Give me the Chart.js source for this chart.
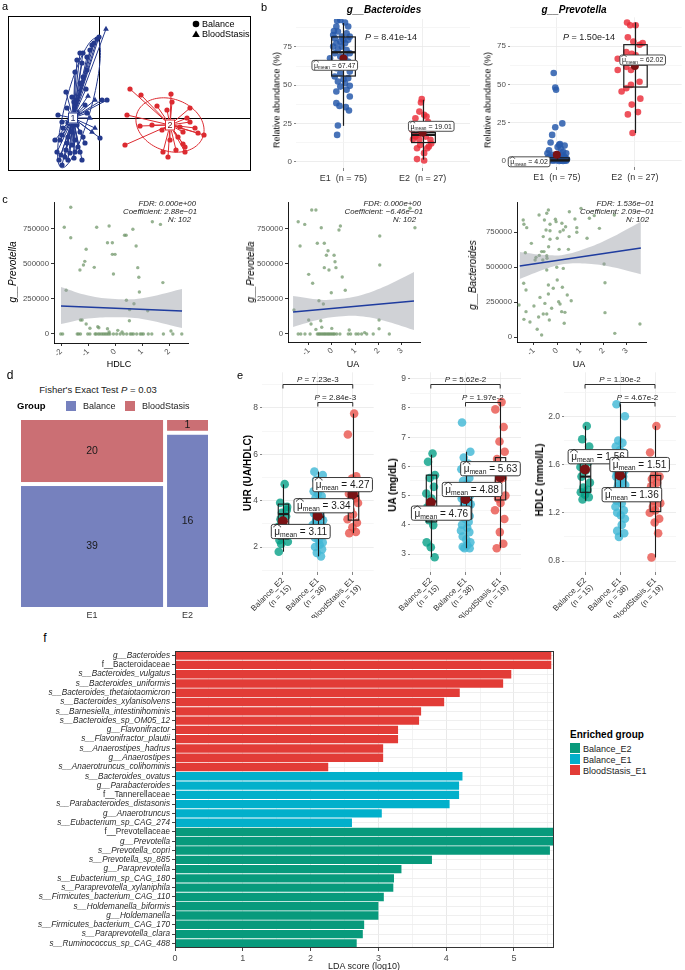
<!DOCTYPE html>
<html>
<head>
<meta charset="utf-8">
<title>Figure</title>
<script src="https://cdn.jsdelivr.net/npm/chart.js@4.4.1/dist/chart.umd.min.js"></script>
<style>
html,body{margin:0;padding:0;background:#fff;}
#page{position:relative;width:685px;height:970px;overflow:hidden;background:#fff;font-family:'Liberation Sans',Arial,Helvetica,sans-serif;color:#000;}
#page canvas{position:absolute;}
.t{position:absolute;white-space:nowrap;line-height:1;}
.sq{position:absolute;}
</style>
</head>
<body>
<div id="page"></div>
<script>
// ===================== DATA =====================
// ---- Panel a: ordination scores (PC1, PC2) ----
const aBlueCircle = [[0.00,0.81],[-0.02,0.79],[-0.05,0.75],[-0.07,0.73],[-0.09,0.68],[-0.16,0.65],[-0.19,0.65],[-0.12,0.61],[-0.22,0.58],[-0.17,0.55],[-0.12,0.48],[-0.24,0.46],[-0.16,0.41],[-0.19,0.35],[-0.33,0.26],[-0.13,0.29],[-0.27,0.21],[-0.23,0.18],[-0.25,0.16],[0.03,0.18],[0.08,0.18],[-0.14,0.13],[-0.32,0.10],[-0.12,0.05],[0.01,-0.20],[-0.16,-0.19],[-0.41,0.03],[-0.37,-0.04],[-0.36,-0.10],[-0.31,-0.05],[-0.22,-0.07],[-0.27,-0.14],[-0.19,-0.14],[-0.44,-0.22],[-0.39,-0.22],[-0.32,-0.25],[-0.24,-0.22],[-0.14,-0.25],[-0.42,-0.34],[-0.38,-0.37],[-0.34,-0.39],[-0.29,-0.35],[-0.24,-0.34],[-0.19,-0.34],[-0.31,-0.42],[-0.40,-0.42],[-0.37,-0.47],[-0.37,-0.17],[-0.31,-0.19],[-0.27,-0.27],[-0.21,-0.29],[-0.33,-0.32],[-0.25,-0.40],[-0.17,-0.42]];
const aBlueTriangle = [[0.07,0.89],[-0.04,0.18],[-0.09,0.00],[-0.04,-0.10],[-0.07,-0.14],[-0.21,0.06],[-0.29,0.00],[-0.11,0.22]];
const aRedCircle = [[0.31,0.29],[0.42,0.23],[0.72,0.24],[0.58,0.12],[0.68,0.08],[0.73,0.16],[0.91,0.10],[0.28,0.03],[0.41,-0.08],[0.53,-0.07],[0.63,-0.12],[0.88,0.00],[0.91,-0.04],[0.96,-0.10],[0.99,-0.15],[1.05,-0.17],[0.84,-0.14],[0.81,-0.09],[0.26,-0.27],[0.71,-0.22],[0.79,-0.19],[0.84,-0.26],[0.86,-0.29],[0.64,-0.34],[0.86,-0.34],[0.69,-0.39],[0.77,-0.32]];
const aCentroids = [[-0.26,0.00],[0.71,-0.07]];
const aClusterLabels = ['1','2'];
// ellipse: centre x, centre y, semi-axis a, semi-axis b, angle (deg)
const aEllipses = [[-0.20,0.15,0.67,0.13,75],[0.71,-0.07,0.35,0.26,-20]];

// ---- Panel b: relative abundance (%) ----
const bCats = ['E1  (n = 75)','E2  (n = 27)'];
const bBactE1 = [92,92.6,90.9,88.3,88.3,85.4,85,83.9,81.7,80.7,78.5,77.4,75.2,73.5,73,70.9,70.9,68.7,67.6,65.4,62.2,61.1,58.9,57.8,54.6,52.4,51.3,49.6,49.1,47,45.9,42.6,38.3,36.5,35.7,33.5,23.7,17.6,79.6,75.2,77.4,79.6,82.8,81.7,68.7,63.3,62.6,55.7,53.9];
const bBactE1Jit = [-0.08,-0.04,0.02,0.06,-0.09,-0.12,-0.07,0.04,0.08,-0.11,-0.04,0.02,-0.13,-0.07,0.04,0.08,-0.11,-0.04,-0.17,0.06,0,-0.09,0.08,-0.04,0.06,-0.07,0.02,0.08,-0.04,0.04,-0.09,0.08,-0.09,-0.05,0.03,0.07,-0.07,-0.08,0,-0.02,-0.09,0.06,-0.13,-0.02,0.02,-0.13,0.1,-0.11,0];
const bBactE2 = [40.9,38.7,32.8,29.6,28.5,24.1,30.7,20.9,19.8,16.5,16.5,14.4,14.4,10.0,8.9,8.9,5.7,1.8,0.9,14.8,22.5,18.0,12.0,26.0,17.0,11.0,21.5];
const bBactE2Jit = [-0.01,-0.02,-0.04,0.05,-0.09,-0.01,0.02,-0.13,-0.01,-0.09,0.04,-0.04,0.1,0.08,-0.07,0.06,0.02,-0.07,0.02,-0.12,0.09,-0.05,0.11,0.07,-0.1,-0.03,0.12];
const bPrevE1 = [57.5,48,46.5,24.5,22,17,12,11,10.5,10,9,8,7,6,5,5,4,4,3,3,2.5,2,2,1.5,1.5,1,1,1,0.8,0.5,0.5,0.3,0.3,0.2,0.2,0.1,0.1,0,0,0];
const bPrevE1Jit = [-0.04,-0.02,-0.01,0.07,-0.02,-0.06,-0.08,0.04,0.03,0.1,0.01,0.05,-0.1,0.08,-0.12,0.12,0.06,-0.05,0.09,-0.09,0.02,-0.11,0.11,0.0,-0.07,0.13,-0.03,0.07,-0.13,0.04,-0.08,0.1,-0.01,0.06,-0.1,0.12,-0.05,0.03,-0.12,0.08];
const bPrevE2 = [90.5,88.7,88.7,80.8,78,75.9,77.1,71.2,70,69,66.8,66.8,61.5,59.4,59.4,51.8,49.7,47.5,45.4,40.7,36.8,31.9,30.4,18.2];
const bPrevE2Jit = [-0.10,-0.06,0.01,-0.09,-0.02,0.06,0.1,-0.11,-0.04,0.01,-0.22,0.08,-0.11,-0.22,-0.05,0.06,-0.05,-0.11,-0.17,0.07,-0.04,0.04,-0.09,-0.03];
// box stats: [whisker low, Q1, median, Q3, whisker high, mean]
const bBactStats = [[23.5,56,71.5,81.5,90.6,67.47],[1.5,12.6,17.6,19.1,40.5,19.01]];
const bPrevStats = [[0,0.1,0.4,2.0,4.8,4.02],[18.2,48.3,63,76,90.5,62.02]];
const bBactP = '8.41e-14', bPrevP = '1.50e-14';

// ---- Panel c: correlation scatter (x = clinical z-score, y = abundance) ----
const cYTicks = [0,250000,500000,750000];
const cHdlcPrev = [[-1.64,905000],[-1.88,762000],[-1.64,688000],[-1.81,312000],[-1.07,605000],[-1.12,519000],[-1.17,493000],[-1.30,457000],[-0.77,476000],[-0.68,762000],[-0.22,771000],[-0.28,652000],[-0.10,652000],[-0.10,569000],[0.00,569000],[-0.06,429000],[0.35,705000],[0.41,705000],[0.66,748000],[0.78,629000],[0.84,474000],[0.88,405000],[0.90,300000],[0.42,241000],[0.70,216000],[0.54,174000],[0.53,95000],[1.21,166000],[1.38,802000],[1.68,783000],[1.77,367000],[-1.28,100000],[-1.22,100000],[-1.07,71000],[-0.93,41000],[-0.64,52000],[-0.60,45000],[-0.28,38000],[-0.22,14000],[0.10,26000],[0.26,14000],[2.07,21000],[2.14,0],[-2.01,0],[-1.94,0],[-1.40,0],[-1.35,0],[-1.28,0],[-1.01,0],[-0.93,0],[-0.74,0],[-0.70,0],[-0.62,0],[-0.56,0],[-0.49,0],[-0.43,0],[-0.37,0],[-0.31,0],[-0.25,0],[-0.19,0],[-0.06,0],[0.06,0],[0.19,0],[0.31,0],[0.43,0],[0.56,0],[0.62,0],[0.68,0],[0.80,0],[0.93,0],[0.99,0],[1.05,0],[1.23,0],[1.36,0],[1.79,0],[2.47,0]];
const cUaPrev = [[-0.87,886000],[-0.69,886000],[-1.45,802000],[-1.17,783000],[-0.46,759000],[0.30,743000],[0.36,771000],[-1.37,629000],[-0.63,648000],[-0.33,648000],[-0.17,595000],[-0.24,562000],[0.09,562000],[0.13,516000],[-0.33,474000],[-0.13,457000],[0.17,474000],[-1.00,426000],[-0.83,362000],[0.44,407000],[0.57,312000],[-0.03,295000],[-0.56,238000],[-0.37,214000],[-1.63,171000],[-1.00,100000],[-0.90,71000],[-0.48,95000],[-0.44,48000],[-0.69,33000],[-0.01,40000],[0.74,29000],[1.40,10000],[2.02,100000],[2.02,38000],[2.05,700000],[2.05,493000],[3.56,759000],[3.35,898000],[-1.45,0],[-1.34,0],[-1.16,0],[-0.94,0],[-0.63,0],[-0.57,0],[-0.52,0],[-0.46,0],[-0.40,0],[-0.34,0],[-0.29,0],[-0.23,0],[-0.17,0],[-0.12,0],[-0.06,0],[0,0],[0.06,0],[0.11,0],[0.20,0],[0.34,0],[0.70,0],[0.80,0],[1.03,0],[1.13,0],[1.27,0],[1.49,0],[1.77,0],[2.46,0]];
const cUaBact = [[1.03,919000],[0.53,895000],[-0.37,907000],[-0.44,884000],[-0.77,871000],[-0.54,836000],[-0.07,841000],[-0.04,824000],[-1.45,836000],[-1.42,805000],[-1.30,781000],[-0.30,805000],[0.21,812000],[0.77,843000],[1.39,848000],[1.60,867000],[1.82,776000],[1.29,705000],[0.85,781000],[0.37,788000],[0.27,764000],[0.13,752000],[-0.30,759000],[-0.47,764000],[-0.59,717000],[-0.30,698000],[-1.10,669000],[0.01,705000],[0.52,717000],[0.85,748000],[-1.36,602000],[0.49,626000],[0.09,626000],[-0.36,645000],[-0.56,610000],[-0.66,610000],[-0.90,569000],[-0.76,583000],[-0.44,581000],[-0.43,562000],[-0.61,550000],[-0.94,550000],[-0.44,479000],[-0.01,498000],[0.27,490000],[2.02,521000],[-1.43,384000],[-1.33,336000],[-0.37,371000],[0.01,407000],[2.06,388000],[-0.16,348000],[0.23,355000],[-0.37,307000],[0.44,300000],[-0.73,283000],[0.61,259000],[0.07,252000],[0.13,236000],[-1.63,229000],[-0.99,221000],[-0.52,240000],[-0.23,205000],[0.20,181000],[0.34,176000],[-1.33,181000],[2.06,174000],[-0.59,164000],[-0.44,164000],[-0.79,143000],[-1.42,126000],[-1.16,107000],[-0.33,121000],[0.31,98000],[-0.85,55000],[-0.66,14000],[2.48,26000],[3.56,93000],[2.46,871000]];
// linear fit and 95% CI band
const cFit1X = [-2.0,2.48], cFit1Y = [200000,164000];
const cBand1X = [-2.0,-1,0,1,2.48], cBand1Hi = [336000,275000,250000,255000,321000], cBand1Lo = [71000,110000,120000,108000,43000];
const cFit2X = [-1.67,3.52], cFit2Y = [157000,236000];
const cBand2X = [-1.67,-0.5,0.3,1.2,2.2,3.52], cBand2Hi = [271000,245000,250000,275000,335000,443000], cBand2Lo = [50000,105000,125000,127000,97000,29000];
const cFit3X = [-1.6,3.6], cFit3Y = [507000,636000];
const cBand3X = [-1.6,-0.5,0.3,1.2,2.2,3.6], cBand3Hi = [607000,585000,588000,630000,700000,824000], cBand3Lo = [414000,485000,521000,525000,505000,448000];

// ---- Panel d: mosaic counts ----
const dCols = ['E1','E2'];
const dBalance = [39,16];
const dBloodStasis = [20,1];

// ---- Panel e: clinical indices by group ----
const eCats = [['Balance_E2','(n = 15)'],['Balance_E1','(n = 38)'],['BloodStasis_E1','(n = 19)']];
const eJitter = [0.05,-0.08,0.12,-0.03,0.09,-0.13,0.02,-0.10,0.14,-0.05,0.07,-0.12,0.00,0.11,-0.07,0.04,-0.14,0.10,-0.02,0.13,-0.09,0.06,-0.11,0.03,0.08,-0.04,0.15,-0.06,0.01,-0.15,0.12,-0.01,0.09,-0.10,0.05,-0.13,0.11,-0.08,0.02,0.14];
const uhrE2 = [4.71,3.91,3.73,3.48,3.33,2.87,2.59,2.30,2.23,2.13,2.60,1.80,3.00,3.60,3.20];
const uhrE1 = [5.25,5.1,4.9,4.6,4.4,4.3,4.2,4.1,4.0,3.9,3.8,3.7,3.65,3.6,3.5,3.45,3.4,3.3,3.2,3.15,3.1,3.0,2.95,2.9,2.85,2.8,2.7,2.65,2.6,2.5,2.4,2.3,2.2,2.1,2.0,1.9,1.75,1.6];
const uhrBS = [7.75,6.85,5.05,4.95,4.8,4.6,4.4,4.3,4.2,4.1,4.0,3.9,3.6,3.4,3.2,3.05,2.85,2.65,2.6];
const uaE2 = [6.44,6.16,5.7,5.6,5.3,5.07,4.9,4.6,4.3,4.16,3.99,3.4,3.23,2.89,4.5];
const uaE1 = [7.5,6.5,6.3,6.1,5.9,5.8,5.6,5.5,5.4,5.3,5.2,5.1,5.0,5.0,4.95,4.9,4.85,4.8,4.75,4.7,4.6,4.5,4.4,4.3,4.2,4.1,4.0,3.9,3.8,3.75,3.6,3.5,3.4,3.3,3.25,3.2,3.2,4.65];
const uaBS = [8.2,7.95,7.35,6.85,6.5,6.25,6.0,5.85,5.7,5.6,5.5,5.0,4.9,4.75,4.5,4.2,3.75,3.35,3.2];
const hdlE2 = [1.92,1.81,1.75,1.68,1.62,1.58,1.55,1.5,1.45,1.41,1.39,1.37,1.35,1.33,1.31];
const hdlE1 = [2.1,2.0,1.8,1.78,1.75,1.72,1.7,1.68,1.65,1.62,1.6,1.58,1.55,1.53,1.52,1.5,1.48,1.46,1.45,1.43,1.42,1.4,1.38,1.36,1.35,1.33,1.3,1.28,1.25,1.22,1.2,1.18,1.15,1.1,1.05,1.03,1.0,1.5];
const hdlBS = [1.92,1.7,1.6,1.52,1.5,1.48,1.45,1.42,1.38,1.35,1.3,1.28,1.25,1.22,1.2,1.15,1.12,1.03,0.83];
const uhrStats = [[1.8,2.35,3.42,3.85,4.7,3.11],[1.6,2.65,3.3,3.9,5.25,3.34],[2.6,3.16,4.2,4.95,7.75,4.27]];
const uaStats = [[2.9,4.1,4.8,5.7,6.4,4.76],[3.2,4.2,4.85,5.4,6.5,4.88],[3.2,4.85,5.6,6.3,8.2,5.63]];
const hdlStats = [[1.3,1.37,1.5,1.61,1.92,1.56],[1.0,1.3,1.5,1.62,2.1,1.51],[0.83,1.21,1.35,1.51,1.92,1.36]];
// pairwise tests: [group a, group b, bracket height, p]
const uhrTests = [[1,3,9.01,'7.23e-3'],[2,3,8.24,'2.84e-3']];
const uaTests = [[1,3,8.81,'5.62e-2'],[2,3,8.20,'1.97e-2']];
const hdlTests = [[1,3,2.266,'1.30e-2'],[2,3,2.117,'4.67e-2']];

// ---- Panel f: LEfSe LDA scores ----
const ldaFeatures = ['g__Bacteroides','f__Bacteroidaceae','s__Bacteroides_vulgatus','s__Bacteroides_uniformis','s__Bacteroides_thetaiotaomicron','s__Bacteroides_xylanisolvens','s__Barnesiella_intestinihominis','s__Bacteroides_sp_OM05_12','g__Flavonifractor','s__Flavonifractor_plautii','s__Anaerostipes_hadrus','g__Anaerostipes','s__Anaerotruncus_colihominis','s__Bacteroides_ovatus','g__Parabacteroides','f__Tannerellaceae','s__Parabacteroides_distasonis','g__Anaerotruncus','s__Eubacterium_sp_CAG_274','f__Prevotellaceae','g__Prevotella','s__Prevotella_copri','s__Prevotella_sp_885','g__Paraprevotella','s__Eubacterium_sp_CAG_180','s__Paraprevotella_xylaniphila','s__Firmicutes_bacterium_CAG_110','s__Holdemanella_biformis','g__Holdemanella','s__Firmicutes_bacterium_CAG_170','s__Paraprevotella_clara','s__Ruminococcus_sp_CAG_488'];
const ldaScores = [5.55,5.55,4.96,4.84,4.20,3.97,3.63,3.60,3.29,3.29,3.07,3.07,2.26,4.24,4.19,4.19,4.05,3.05,2.61,5.62,5.62,5.53,3.79,3.34,3.23,3.22,3.08,3.00,3.00,2.79,2.77,2.68];
const ldaGroups = ['BloodStasis_E1','BloodStasis_E1','BloodStasis_E1','BloodStasis_E1','BloodStasis_E1','BloodStasis_E1','BloodStasis_E1','BloodStasis_E1','BloodStasis_E1','BloodStasis_E1','BloodStasis_E1','BloodStasis_E1','BloodStasis_E1','Balance_E1','Balance_E1','Balance_E1','Balance_E1','Balance_E1','Balance_E1','Balance_E2','Balance_E2','Balance_E2','Balance_E2','Balance_E2','Balance_E2','Balance_E2','Balance_E2','Balance_E2','Balance_E2','Balance_E2','Balance_E2','Balance_E2'];
const ldaLegend = ['Balance_E2','Balance_E1','BloodStasis_E1'];

// ===================== STYLE / HELPERS =====================
const FONT = "'Liberation Sans', Arial, Helvetica, sans-serif";
Chart.defaults.font.family = FONT;
Chart.defaults.color = '#4d4d4d';
const A_BLUE = '#24398c', A_RED = '#dc2a30';
const B_BLUE = 'rgba(40,90,172,0.85)', B_RED = 'rgba(234,44,56,0.82)';
const E_COL = ['rgba(0,158,132,0.78)','rgba(66,184,214,0.82)','rgba(232,78,70,0.78)'];
const F_COL = {Balance_E2:'#089a7c', Balance_E1:'#02b0cb', BloodStasis_E1:'#e23c37'};
const D_BLUE = '#7681be', D_RED = '#cb6f74';
const MEAN_COL = '#7a1214';

const page = document.getElementById('page');
function T(html, x, y, size, o = {}) {
  const d = document.createElement('div');
  d.className = 't';
  d.innerHTML = html;
  d.style.fontSize = size + 'px';
  if (o.b) d.style.fontWeight = 'bold';
  if (o.i) d.style.fontStyle = 'italic';
  d.style.color = o.c || '#000';
  d.style.left = x + 'px';
  d.style.top = y + 'px';
  const ax = o.a === 'l' ? '0%' : (o.a === 'r' ? '-100%' : '-50%');
  d.style.transform = 'translate(' + ax + ',-50%)' + (o.rot ? ' rotate(' + o.rot + 'deg)' : '');
  page.appendChild(d);
}
function SQ(x, y, w, h, col) {
  const d = document.createElement('div');
  d.className = 'sq';
  Object.assign(d.style, {left: x + 'px', top: y + 'px', width: w + 'px', height: h + 'px', background: col});
  page.appendChild(d);
}
// box = [left, top, width, height]; area = [x0, y0, x1, y1] (page pixels)
function mk(box, area, cfg) {
  const c = document.createElement('canvas');
  c.width = box[2]; c.height = box[3];
  Object.assign(c.style, {left: box[0] + 'px', top: box[1] + 'px', width: box[2] + 'px', height: box[3] + 'px'});
  page.appendChild(c);
  const yw = area[0] - box[0], xh = box[1] + box[3] - area[3];
  const o = cfg.options || (cfg.options = {});
  o.responsive = false; o.maintainAspectRatio = false; o.animation = false; o.devicePixelRatio = 1; o.events = [];
  o.layout = {padding: {left: 0, top: area[1] - box[1], right: box[0] + box[2] - area[2], bottom: 0}};
  o.plugins = Object.assign({legend: {display: false}, tooltip: {enabled: false}}, o.plugins || {});
  o.scales.x.afterFit = s => { s.height = xh; s.paddingLeft = 0; s.paddingRight = 0; };
  o.scales.y.afterFit = s => { s.width = yw; s.paddingTop = 0; s.paddingBottom = 0; };
  return new Chart(c, cfg);
}
function hiddenScale(min, max) {
  return {type: 'linear', min, max, ticks: {display: false}, grid: {display: false, drawTicks: false, tickLength: 0}, border: {display: false}};
}
function rrect(ctx, x, y, w, h, r) {
  ctx.beginPath();
  ctx.moveTo(x + r, y); ctx.lineTo(x + w - r, y); ctx.quadraticCurveTo(x + w, y, x + w, y + r);
  ctx.lineTo(x + w, y + h - r); ctx.quadraticCurveTo(x + w, y + h, x + w - r, y + h);
  ctx.lineTo(x + r, y + h); ctx.quadraticCurveTo(x, y + h, x, y + h - r);
  ctx.lineTo(x, y + r); ctx.quadraticCurveTo(x, y, x + r, y); ctx.closePath();
}
function drawMeanLabel(ctx, cx, cy, val, fs, lw) {
  ctx.save();
  const f1 = fs + 'px ' + FONT, f2 = (fs * 0.68).toFixed(2) + 'px ' + FONT;
  ctx.font = f1;
  const wMu = ctx.measureText('\u03bc').width;
  const rest = ' = ' + val;
  const wRest = ctx.measureText(rest).width;
  ctx.font = f2;
  const wSub = ctx.measureText('mean').width;
  const pad = fs * 0.3;
  const w = wMu + wSub + wRest + 2 * pad, h = fs * 1.42;
  const x0 = cx - w / 2, y0 = cy - h / 2;
  rrect(ctx, x0, y0, w, h, 2);
  ctx.fillStyle = '#fff'; ctx.fill();
  ctx.lineWidth = lw; ctx.strokeStyle = '#3a3a3a'; ctx.stroke();
  ctx.fillStyle = '#1a1a1a'; ctx.textAlign = 'left'; ctx.textBaseline = 'alphabetic';
  const base = cy + fs * 0.36;
  ctx.font = f1; ctx.fillText('\u03bc', x0 + pad, base);
  ctx.lineWidth = Math.max(0.6, fs / 13); ctx.strokeStyle = '#1a1a1a';
  ctx.beginPath();
  const hx = x0 + pad - fs * 0.05, hw = wMu + fs * 0.1, hy = cy - fs * 0.42;
  ctx.moveTo(hx, hy); ctx.lineTo(hx, hy - fs * 0.08); ctx.lineTo(hx + hw / 2, hy - fs * 0.3); ctx.lineTo(hx + hw, hy - fs * 0.08); ctx.lineTo(hx + hw, hy);
  ctx.stroke();
  ctx.font = f2; ctx.fillText('mean', x0 + pad + wMu, base + fs * 0.2);
  ctx.font = f1; ctx.fillText(rest, x0 + pad + wMu + wSub, base);
  ctx.restore();
}
function drawBrackets(chart, tests, fs) {
  const {ctx, scales: {x, y}} = chart;
  ctx.save();
  ctx.strokeStyle = '#1a1a1a'; ctx.lineWidth = 0.9; ctx.fillStyle = '#1a1a1a';
  tests.forEach(b => {
    const x1 = x.getPixelForValue(b[0]), x2 = x.getPixelForValue(b[1]), yy = Math.round(y.getPixelForValue(b[2])) + 0.5;
    ctx.beginPath(); ctx.moveTo(x1, yy + 4); ctx.lineTo(x1, yy); ctx.lineTo(x2, yy); ctx.lineTo(x2, yy + 4); ctx.stroke();
    ctx.font = 'italic ' + fs + 'px ' + FONT; const wP = ctx.measureText('P').width;
    ctx.font = fs + 'px ' + FONT; const rest = ' = ' + b[3]; const wr = ctx.measureText(rest).width;
    const tx = (x1 + x2) / 2 - (wP + wr) / 2, ty = yy - 3;
    ctx.textAlign = 'left'; ctx.textBaseline = 'alphabetic';
    ctx.font = 'italic ' + fs + 'px ' + FONT; ctx.fillText('P', tx, ty);
    ctx.font = fs + 'px ' + FONT; ctx.fillText(rest, tx + wP, ty);
  });
  ctx.restore();
}

// generic box + jitter chart (panels b, e)
function mkBoxChart(o) {
  const datasets = o.groups.map((vals, g) => ({
    data: vals.map((v, i) => ({x: g + 1 + o.jit[g][i % o.jit[g].length], y: v})),
    pointRadius: o.pr, pointHoverRadius: o.pr, pointBackgroundColor: o.colors[g], pointBorderWidth: 0
  }));
  const isMaj = o.isMajor;
  return mk(o.box, o.area, {
    type: 'scatter',
    data: {datasets},
    options: {
      scales: {
        x: {type: 'linear', min: 0.4, max: o.groups.length + 0.6,
            ticks: {stepSize: 1, includeBounds: false, autoSkip: false,
                    callback: v => { const k = Math.round(v) - 1; return o.xlabels[k] !== undefined ? o.xlabels[k] : ''; },
                    color: '#333', font: {size: o.xfs}, maxRotation: o.rot, minRotation: o.rot, padding: o.xpad},
            grid: {color: '#ebebeb', lineWidth: 0.8, tickLength: 3, tickColor: '#666'}, border: {display: false}},
        y: {type: 'linear', min: o.ymin, max: o.ymax,
            ticks: {stepSize: o.ystep, includeBounds: false, autoSkip: false, callback: v => isMaj(v) ? o.fmt(v) : '', color: '#4d4d4d', font: {size: o.yfs}, padding: 2},
            grid: {color: c => (c.tick && isMaj(c.tick.value)) ? '#e9e9e9' : '#f4f4f4', lineWidth: 0.8, tickLength: 2,
                   tickColor: c => (c.tick && isMaj(c.tick.value)) ? '#666' : 'rgba(0,0,0,0)'}, border: {display: false}}
      }
    },
    plugins: [{
      id: 'boxes',
      afterDatasetsDraw(chart) {
        const {ctx, scales: {x, y}} = chart;
        ctx.save();
        o.stats.forEach((s, g) => {
          const cx = Math.round(x.getPixelForValue(g + 1)) + 0.5;
          const hw = Math.abs(x.getPixelForValue(g + 1 + o.bw / 2) - x.getPixelForValue(g + 1));
          const P = v => y.getPixelForValue(v);
          ctx.strokeStyle = '#1a1a1a'; ctx.lineWidth = o.blw;
          ctx.beginPath(); ctx.moveTo(cx, P(s[0])); ctx.lineTo(cx, P(s[4])); ctx.stroke();
          ctx.strokeRect(cx - hw, P(s[3]), 2 * hw, P(s[1]) - P(s[3]));
          ctx.lineWidth = o.blw * 1.9;
          ctx.beginPath(); ctx.moveTo(cx - hw, P(s[2])); ctx.lineTo(cx + hw, P(s[2])); ctx.stroke();
        });
        o.stats.forEach((s, g) => {
          ctx.fillStyle = MEAN_COL; ctx.beginPath();
          ctx.arc(x.getPixelForValue(g + 1), y.getPixelForValue(s[5]), o.mr, 0, Math.PI * 2); ctx.fill();
        });
        ctx.restore();
        o.stats.forEach((s, g) => drawMeanLabel(ctx, x.getPixelForValue(o.lab[g][0]), y.getPixelForValue(o.lab[g][1]), s[5].toFixed(2), o.lfs, o.llw));
        if (o.tests) drawBrackets(chart, o.tests, 8);
      }
    }]
  });
}

// correlation chart (panel c)
function mkCorChart(o) {
  const xy = (xs, ys) => xs.map((v, i) => ({x: v, y: ys[i]}));
  return mk(o.box, o.area, {
    type: 'line',
    data: {datasets: [
      {data: xy(o.fitX, o.fitY), borderColor: '#1f3c9f', borderWidth: 1.4, pointRadius: 0, fill: false},
      {data: xy(o.bandX, o.bandHi), borderWidth: 0, borderColor: 'rgba(0,0,0,0)', pointRadius: 0, tension: 0.4, fill: '+1', backgroundColor: 'rgba(150,156,163,0.45)'},
      {data: xy(o.bandX, o.bandLo), borderWidth: 0, borderColor: 'rgba(0,0,0,0)', pointRadius: 0, tension: 0.4, fill: false},
      {data: o.pts.map(p => ({x: p[0], y: p[1]})), showLine: false, pointRadius: 1.7, pointBackgroundColor: 'rgba(110,148,103,0.72)', pointBorderWidth: 0}
    ]},
    options: {
      scales: {
        x: {type: 'linear', min: o.xmin, max: o.xmax,
            ticks: {stepSize: 1, includeBounds: false, maxRotation: 45, minRotation: 45, color: '#4d4d4d', font: {size: 7.8}, padding: 1},
            grid: {display: true, drawOnChartArea: false, tickLength: 3, color: '#000', tickColor: '#000', tickWidth: 0.8},
            border: {display: true, color: '#000', width: 0.9}},
        y: {type: 'linear', min: o.ymin, max: o.ymax,
            afterBuildTicks: s => { s.ticks = cYTicks.map(v => ({value: v})); },
            ticks: {callback: v => String(v), color: '#4d4d4d', font: {size: 7.8}, padding: 2},
            grid: {display: true, drawOnChartArea: false, tickLength: 3, color: '#000', tickColor: '#000', tickWidth: 0.8},
            border: {display: true, color: '#000', width: 0.9}}
      }
    }
  });
}

// ===================== PANEL a =====================
mk([0, 0, 260, 180], [8, 16, 251, 171], {
  type: 'scatter',
  data: {datasets: [
    {data: aBlueCircle.map(p => ({x: p[0], y: p[1]})), pointStyle: 'circle', pointRadius: 2.6, pointBackgroundColor: A_BLUE, pointBorderWidth: 0},
    {data: aBlueTriangle.map(p => ({x: p[0], y: p[1]})), pointStyle: 'triangle', pointRadius: 3.3, pointBackgroundColor: A_BLUE, pointBorderColor: A_BLUE, pointBorderWidth: 0},
    {data: aRedCircle.map(p => ({x: p[0], y: p[1]})), pointStyle: 'circle', pointRadius: 2.6, pointBackgroundColor: A_RED, pointBorderWidth: 0}
  ]},
  options: {scales: {x: hiddenScale(-0.91, 1.52), y: hiddenScale(-0.53, 1.02)}},
  plugins: [{
    id: 'ordination',
    beforeDatasetsDraw(chart) {
      const {ctx, chartArea: ca, scales: {x, y}} = chart;
      ctx.save();
      ctx.beginPath(); ctx.rect(ca.left, ca.top, ca.width, ca.height); ctx.clip();
      ctx.strokeStyle = '#000'; ctx.lineWidth = 1;
      const zx = Math.round(x.getPixelForValue(0)) + 0.5, zy = Math.round(y.getPixelForValue(0)) + 0.5;
      ctx.beginPath(); ctx.moveTo(zx, ca.top); ctx.lineTo(zx, ca.bottom); ctx.moveTo(ca.left, zy); ctx.lineTo(ca.right, zy); ctx.stroke();
      const groups = [[aBlueCircle.concat(aBlueTriangle), aCentroids[0], A_BLUE], [aRedCircle, aCentroids[1], A_RED]];
      groups.forEach(([pts, c, col]) => {
        const cx = x.getPixelForValue(c[0]), cy = y.getPixelForValue(c[1]);
        ctx.strokeStyle = col; ctx.lineWidth = 1; ctx.beginPath();
        pts.forEach(p => { ctx.moveTo(cx, cy); ctx.lineTo(x.getPixelForValue(p[0]), y.getPixelForValue(p[1])); });
        ctx.stroke();
      });
      aEllipses.forEach((e, i) => {
        ctx.strokeStyle = i ? A_RED : A_BLUE; ctx.lineWidth = 1;
        const th = e[4] * Math.PI / 180;
        ctx.beginPath();
        for (let k = 0; k <= 90; k++) {
          const t = k / 90 * 2 * Math.PI, ex = e[2] * Math.cos(t), ey = e[3] * Math.sin(t);
          const px = x.getPixelForValue(e[0] + ex * Math.cos(th) - ey * Math.sin(th));
          const py = y.getPixelForValue(e[1] + ex * Math.sin(th) + ey * Math.cos(th));
          if (k === 0) ctx.moveTo(px, py); else ctx.lineTo(px, py);
        }
        ctx.closePath(); ctx.stroke();
      });
      ctx.restore();
    },
    afterDatasetsDraw(chart) {
      const {ctx, scales: {x, y}} = chart;
      ctx.save();
      aCentroids.forEach((c, i) => {
        const cx = x.getPixelForValue(c[0]), cy = y.getPixelForValue(c[1]);
        ctx.fillStyle = '#fff'; ctx.strokeStyle = i ? A_RED : A_BLUE; ctx.lineWidth = 1;
        ctx.fillRect(cx - 5, cy - 5.5, 10, 11); ctx.strokeRect(cx - 5 + 0.5, cy - 5.5 + 0.5, 9, 10);
        ctx.fillStyle = i ? '#6b1014' : '#1a2560'; ctx.font = '9px ' + FONT; ctx.textAlign = 'center'; ctx.textBaseline = 'middle';
        ctx.fillText(aClusterLabels[i], cx, cy + 0.5);
      });
      ctx.restore();
    },
    afterDraw(chart) {
      const {ctx, chartArea: ca} = chart;
      ctx.save();
      ctx.strokeStyle = '#000'; ctx.lineWidth = 1;
      ctx.strokeRect(ca.left + 0.5, ca.top + 0.5, ca.width - 1, ca.height - 1);
      ctx.fillStyle = '#000';
      const lx = ca.right - 55;
      ctx.beginPath(); ctx.arc(lx, ca.top + 8, 3.3, 0, Math.PI * 2); ctx.fill();
      ctx.beginPath(); ctx.moveTo(lx, ca.top + 14.5); ctx.lineTo(lx + 3.8, ca.top + 21); ctx.lineTo(lx - 3.8, ca.top + 21); ctx.closePath(); ctx.fill();
      ctx.restore();
    }
  }]
});
T('Balance', 202, 24, 9, {a: 'l'});
T('BloodStasis', 202, 34, 9, {a: 'l'});

// ===================== PANEL b =====================
mkBoxChart({box: [262, 14, 213, 172], area: [296, 19, 470, 168], ymin: -4, ymax: 93.2, ystep: 12.5,
  isMajor: v => Math.abs(v % 25) < 1e-6, fmt: v => String(v), xlabels: bCats, xfs: 9, rot: 0, xpad: 2, yfs: 8,
  groups: [bBactE1, bBactE2], jit: [bBactE1Jit, bBactE2Jit], colors: [B_BLUE, B_RED], pr: 3.3, mr: 4,
  stats: bBactStats, bw: 0.3, blw: 1.2, lab: [[0.89, 63], [2.11, 23.2]], lfs: 7, llw: 0.9});
mkBoxChart({box: [478, 14, 207, 172], area: [510, 15, 685, 167], ymin: -4, ymax: 93.9, ystep: 12.5,
  isMajor: v => Math.abs(v % 25) < 1e-6, fmt: v => String(v), xlabels: bCats, xfs: 9, rot: 0, xpad: 2, yfs: 8,
  groups: [bPrevE1, bPrevE2], jit: [bPrevE1Jit, bPrevE2Jit], colors: [B_BLUE, B_RED], pr: 3.3, mr: 4,
  stats: bPrevStats, bw: 0.3, blw: 1.2, lab: [[0.645, -0.6], [2.1, 66]], lfs: 7, llw: 0.9});
T('<b><i>g__Bacteroides</i></b>', 384, 10, 10);
T('<b><i>g__Prevotella</i></b>', 574, 10, 10);
T('<i>P</i> = ' + bBactP, 391, 37, 9, {c: '#1a1a1a'});
T('<i>P</i> = ' + bPrevP, 589, 37, 9, {c: '#1a1a1a'});
T('Relative abundance (%)', 277, 100, 9, {rot: -90});
T('Relative abundance (%)', 488, 100, 9, {rot: -90});

// ===================== PANEL c =====================
mkCorChart({box: [0, 198, 200, 172], area: [54, 202, 188, 343], xmin: -2.26, xmax: 2.70, ymin: -64286, ymax: 942857,
  pts: cHdlcPrev, fitX: cFit1X, fitY: cFit1Y, bandX: cBand1X, bandHi: cBand1Hi, bandLo: cBand1Lo});
mkCorChart({box: [230, 198, 200, 172], area: [288, 202, 420, 342], xmin: -1.888, xmax: 3.777, ymin: -57143, ymax: 942857,
  pts: cUaPrev, fitX: cFit2X, fitY: cFit2Y, bandX: cBand2X, bandHi: cBand2Hi, bandLo: cBand2Lo});
mkCorChart({box: [460, 198, 200, 172], area: [517, 202, 646, 342], xmin: -1.717, xmax: 3.820, ymin: -35714, ymax: 964286,
  pts: cUaBact, fitX: cFit3X, fitY: cFit3Y, bandX: cBand3X, bandHi: cBand3Hi, bandLo: cBand3Lo});
T('<i>g__Prevotella</i>', 13, 272, 10, {rot: -90});
T('<i>g__Prevotella</i>', 251, 272, 10, {rot: -90});
T('<i>g__Bacteroides</i>', 473, 275, 10, {rot: -90});
T('HDLC', 119, 364, 9);
T('UA', 353, 364, 9);
T('UA', 579, 364, 9);
const cAnn = [
  [196, 197, 191, '2.88e\u221201', '0.000e+00'],
  [421, 423, 416, '\u22126.46e\u221201', '0.000e+00'],
  [654, 654, 649, '2.09e\u221201', '1.536e\u221201']
];
cAnn.forEach(a => {
  T('<i>FDR: ' + a[4] + '</i>', a[0], 204, 7.8, {a: 'r', c: '#222'});
  T('<i>Coefficient: ' + a[3] + '</i>', a[1], 212, 7.8, {a: 'r', c: '#222'});
  T('<i>N: 102</i>', a[2], 220, 7.8, {a: 'r', c: '#222'});
});

// ===================== PANEL d =====================
function mosaicGeom() {
  const tot = dBalance.map((b, i) => b + dBloodStasis[i]);
  const N = tot.reduce((s, v) => s + v, 0);
  const gap = 0.0214;
  const avail = 1 - gap * (tot.length - 1);
  let x0 = 0;
  return tot.map((t, i) => {
    const w = avail * t / N;
    const col = {x0, x1: x0 + w, redTop: 1, redBot: 1 - (1 - gap) * dBloodStasis[i] / t, bluTop: (1 - gap) * dBalance[i] / t, bluBot: 0};
    x0 += w + gap;
    return col;
  });
}
const dGeom = mosaicGeom();
mk([0, 415, 230, 215], [21, 420, 208, 607], {
  type: 'scatter',
  data: {datasets: []},
  options: {scales: {
    x: {type: 'linear', min: 0, max: 1, afterBuildTicks: s => { s.ticks = dGeom.map(g => ({value: (g.x0 + g.x1) / 2})); },
        ticks: {callback: (v, i) => dCols[i], color: '#333', font: {size: 9}, padding: 3},
        grid: {display: false, drawTicks: false, tickLength: 0}, border: {display: false}},
    y: hiddenScale(0, 1)
  }},
  plugins: [{
    id: 'mosaic',
    afterDatasetsDraw(chart) {
      const {ctx, scales: {x, y}} = chart;
      ctx.save();
      dGeom.forEach((g, i) => {
        const px0 = x.getPixelForValue(g.x0), px1 = x.getPixelForValue(g.x1);
        const rt = y.getPixelForValue(g.redTop), rb = y.getPixelForValue(g.redBot);
        const bt = y.getPixelForValue(g.bluTop), bb = y.getPixelForValue(g.bluBot);
        ctx.fillStyle = D_RED; ctx.fillRect(px0, rt, px1 - px0, rb - rt);
        ctx.fillStyle = D_BLUE; ctx.fillRect(px0, bt, px1 - px0, bb - bt);
        ctx.fillStyle = '#1a1a1a'; ctx.font = '10.5px ' + FONT; ctx.textAlign = 'center'; ctx.textBaseline = 'middle';
        ctx.fillText(String(dBloodStasis[i]), (px0 + px1) / 2, (rt + rb) / 2);
        ctx.fillText(String(dBalance[i]), (px0 + px1) / 2, (bt + bb) / 2);
      });
      ctx.restore();
    }
  }]
});
T("Fisher's Exact Test <i>P</i> = 0.03", 98, 390, 9.5, {c: '#1a1a1a'});
T('<b>Group</b>', 17, 406, 9.5, {a: 'l'});
SQ(66, 401, 10, 10, D_BLUE);
T('Balance', 83, 406, 9, {a: 'l', c: '#222'});
SQ(125, 401, 10, 10, D_RED);
T('BloodStasis', 142, 406, 9, {a: 'l', c: '#222'});

// ===================== PANEL e =====================
const eJ = [eJitter, eJitter.slice(7).concat(eJitter.slice(0, 7)), eJitter.slice(15).concat(eJitter.slice(0, 15))];
mkBoxChart({box: [228, 368, 150, 250], area: [262, 372, 374, 572], ymin: 0.925, ymax: 9.53, ystep: 1,
  isMajor: v => Math.abs(v % 2) < 1e-6, fmt: v => String(v), xlabels: eCats, xfs: 8, rot: 45, xpad: 1, yfs: 8.5,
  groups: [uhrE2, uhrE1, uhrBS], jit: eJ, colors: E_COL, pr: 4.3, mr: 5,
  stats: uhrStats, bw: 0.3, blw: 1.1, lab: [[1.51, 2.67], [2.17, 3.78], [2.71, 4.69]], lfs: 10, llw: 1, tests: uhrTests});
mkBoxChart({box: [378, 368, 150, 250], area: [410, 372, 521, 572], ymin: 2.385, ymax: 9.22, ystep: 0.5,
  isMajor: v => Math.abs(v - Math.round(v)) < 1e-6, fmt: v => String(Math.round(v)), xlabels: eCats, xfs: 8, rot: 45, xpad: 1, yfs: 8.5,
  groups: [uaE2, uaE1, uaBS], jit: eJ, colors: E_COL, pr: 4.3, mr: 5,
  stats: uaStats, bw: 0.3, blw: 1.1, lab: [[1.30, 4.40], [2.19, 5.21], [2.72, 5.92]], lfs: 10, llw: 1, tests: uaTests});
mkBoxChart({box: [530, 368, 155, 250], area: [564, 372, 676, 572], ymin: 0.709, ymax: 2.365, ystep: 0.2,
  isMajor: v => Math.round(v * 10) % 4 === 0, fmt: v => v.toFixed(1), xlabels: eCats, xfs: 8, rot: 45, xpad: 1, yfs: 8.5,
  groups: [hdlE2, hdlE1, hdlBS], jit: eJ, colors: E_COL, pr: 4.3, mr: 5,
  stats: hdlStats, bw: 0.3, blw: 1.1, lab: [[1.37, 1.665], [2.56, 1.60], [2.34, 1.35]], lfs: 10, llw: 1, tests: hdlTests});
T('<b>UHR (UA/HDLC)</b>', 248, 473, 10, {rot: -90});
T('<b>UA (mg/dL)</b>', 393, 485, 10, {rot: -90});
T('<b>HDLC (mmol/L)</b>', 540, 480, 10, {rot: -90});

// ===================== PANEL f =====================
mk([0, 645, 560, 325], [175, 651, 554, 948], {
  type: 'bar',
  data: {labels: ldaFeatures, datasets: [{data: ldaScores, backgroundColor: ldaGroups.map(g => F_COL[g]), borderWidth: 0, barPercentage: 0.9, categoryPercentage: 1}]},
  options: {
    indexAxis: 'y',
    scales: {
      x: {type: 'linear', min: 0, max: 5.59,
          ticks: {stepSize: 0.5, includeBounds: false, autoSkip: false, callback: v => Number.isInteger(v) ? String(v) : '', color: '#4d4d4d', font: {size: 9}, padding: 2},
          grid: {color: c => (c.tick && Number.isInteger(c.tick.value)) ? '#e6e6e6' : '#f2f2f2', lineWidth: 0.9, tickLength: 3,
                 tickColor: c => (c.tick && Number.isInteger(c.tick.value)) ? '#333' : 'rgba(0,0,0,0)'}, border: {display: false}},
      y: {type: 'category',
          ticks: {autoSkip: false, color: '#2a2a2a', padding: 2,
                  font: c => ({family: FONT, size: 8.2, style: (ldaFeatures[c.index] || '').startsWith('f__') ? 'normal' : 'italic'})},
          grid: {offset: false, color: '#ededed', lineWidth: 0.9, tickLength: 3, tickColor: '#333'}, border: {display: false}}
    }
  },
  plugins: [{
    id: 'frame',
    afterDraw(chart) {
      const {ctx, chartArea: ca} = chart;
      ctx.save(); ctx.strokeStyle = '#333'; ctx.lineWidth = 1;
      ctx.strokeRect(Math.round(ca.left) + 0.5, Math.round(ca.top) + 0.5, Math.round(ca.width) - 1, Math.round(ca.height) - 1);
      ctx.restore();
    }
  }]
});
T('LDA score (log10)', 364, 966, 9, {c: '#1a1a1a'});
T('<b>Enriched group</b>', 570, 735, 10, {a: 'l'});
ldaLegend.forEach((g, i) => {
  SQ(570, 743 + i * 11, 9.5, 10, F_COL[g]);
  T(g, 583, 748.5 + i * 11, 9, {a: 'l', c: '#222'});
});

// ===================== PANEL LETTERS =====================
T('a', 5, 6, 11);
T('b', 264, 7, 11);
T('c', 5, 199, 11);
T('d', 10, 375, 12);
T('e', 240, 375, 11);
T('f', 45, 638, 12);
</script>
</body>
</html>
